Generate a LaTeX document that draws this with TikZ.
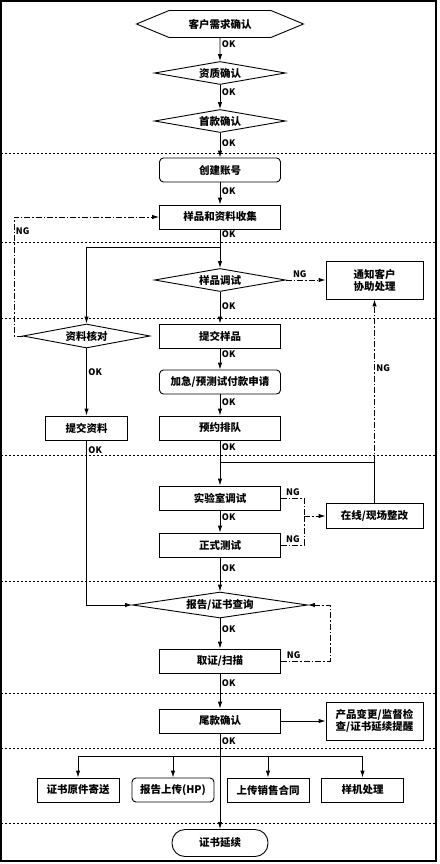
\documentclass[tikz,border=0pt]{standalone}
\usepackage{fontspec}
\setmainfont{Noto Sans CJK SC}
\usetikzlibrary{arrows.meta,shapes.geometric,shapes.symbols}

\begin{document}
\begin{tikzpicture}[x=1pt,y=-1pt,>={Latex[length=7pt,width=4.5pt]},
    font=\bfseries\fontsize{10.5}{12}\selectfont,line width=0.9pt,
    box/.style={draw,minimum width=121pt,minimum height=24pt,inner sep=0pt},
    rbox/.style={box,rounded corners=4pt},
    dec/.style={draw,diamond,aspect=5,inner sep=0pt,minimum width=131pt,minimum height=23pt},
    ok/.style={font=\bfseries\fontsize{9}{10}\selectfont,inner sep=1.5pt},
    ng/.style={dash pattern=on 6pt off 2pt on 1.5pt off 2pt},
    sep/.style={dash pattern=on 2pt off 2pt,line width=0.7pt}]
  \useasboundingbox (0,0) rectangle (439,864);
  \draw[line width=1.6pt] (1,1) rectangle (436,861);
  \foreach \y in {153,242,318,455,581,693,748,823}
    \draw[sep] (1,\y) -- (436,\y);

  \node[draw,signal,signal to=west and east,signal pointer angle=45,
        minimum width=167pt,minimum height=27pt,inner sep=0pt] (need) at (220,24) {客户需求确认};
  \node[dec] (qual) at (220,73) {资质确认};
  \node[dec] (pay1) at (220,121) {首款确认};
  \node[rbox] (acct) at (220,170) {创建账号};
  \node[box] (coll) at (220,217) {样品和资料收集};
  \node[dec] (debug) at (220,280) {样品调试};
  \node[box,minimum width=97pt,minimum height=38pt,align=center] (notify) at (374.5,280) {通知客户\\协助处理};
  \node[dec,minimum width=127pt,minimum height=24pt] (check) at (86.5,336) {资料核对};
  \node[box] (sample) at (220,336) {提交样品};
  \node[rbox] (urgent) at (220,382) {加急/预测试付款申请};
  \node[box] (queue) at (220,428) {预约排队};
  \node[box,minimum width=82pt] (docs) at (86.5,428) {提交资料};
  \node[box] (lab) at (220,498) {实验室调试};
  \node[box,minimum width=97pt,minimum height=25pt] (fix) at (374.5,516) {在线/现场整改};
  \node[box] (test) at (220,545) {正式测试};
  \node[dec,minimum width=175pt,minimum height=26pt] (query) at (220,605) {报告/证书查询};
  \node[box] (scan) at (220,661) {取证/扫描};
  \node[box] (pay2) at (220,721) {尾款确认};
  \node[box,minimum width=97pt,minimum height=38pt,align=center] (remind) at (374.5,721) {产品变更/监督检\\查/证书延续提醒};
  \node[box,minimum width=82pt] (mail) at (78,790) {证书原件寄送};
  \node[rbox,minimum width=82pt] (upload) at (173,790) {报告上传(HP)};
  \node[box,minimum width=82pt] (contract) at (268,790) {上传销售合同};
  \node[box,minimum width=82pt] (proto) at (362.5,790) {样机处理};
  \node[box,rounded corners=13pt,minimum width=96pt,minimum height=27pt] (renew) at (220,843) {证书延续};

  \coordinate (j1) at (220,247);
  \coordinate (j2) at (220,462);
  \coordinate (j3) at (220,756);
  \coordinate (j4) at (374.5,462);
  \coordinate (k1) at (14,336);
  \coordinate (k2) at (304,516);
  \coordinate (k3) at (330,605);

  \path[->]
  (need) edge node[ok,right,pos=.28]{OK} (qual)
  (qual) edge node[ok,right,pos=.3]{OK} (pay1)
  (pay1) edge node[ok,right,pos=.4]{OK} (acct)
  (acct) edge node[ok,right,pos=.4]{OK} (coll)
  (coll) edge node[ok,right,pos=.12]{OK} (debug)
  (debug) edge node[ok,right,pos=.45]{OK} (sample)
  (sample) edge node[ok,right,pos=.27]{OK} (urgent)
  (urgent) edge node[ok,right,pos=.36]{OK} (queue)
  (queue) edge node[ok,right,pos=.15]{OK} (lab)
  (lab) edge node[ok,right,pos=.3]{OK} (test)
  (test) edge node[ok,right,pos=.3]{OK} (query)
  (query) edge node[ok,right,pos=.35]{OK} (scan)
  (scan) edge node[ok,right,pos=.28]{OK} (pay2)
  (pay2) edge node[ok,right,pos=.08]{OK} (renew)
  (check) edge node[ok,right,pos=.35]{OK} (docs)
  (pay2) edge (remind);
  \draw[->] (j1) -| (check);
  \draw[->] (docs) |- node[ok,right,pos=.03]{OK} (query);
  \draw (fix) |- (j2);
  \foreach \n in {mail,upload,contract,proto}
    \draw[->] (j3) -| (\n);

  % NG
  \draw[->,ng] (debug) -- node[ok,above,pos=.35]{NG} (notify);
  \draw[->,ng] (j4) -- node[ok,right,pos=.58]{NG} (notify);
  \draw[->,ng] (check) -- (k1) |- node[ok,right,pos=.44]{NG} (coll);
  \draw[ng] (lab) -| node[ok,above,pos=.26]{NG} (k2);
  \draw[ng] (test) -| node[ok,above,pos=.26]{NG} (k2);
  \draw[->,ng] (k2) -- (fix);
  \draw[->,ng] (scan) -| node[ok,above,pos=.13]{NG} (k3) -- (query);
\end{tikzpicture}
\end{document}
